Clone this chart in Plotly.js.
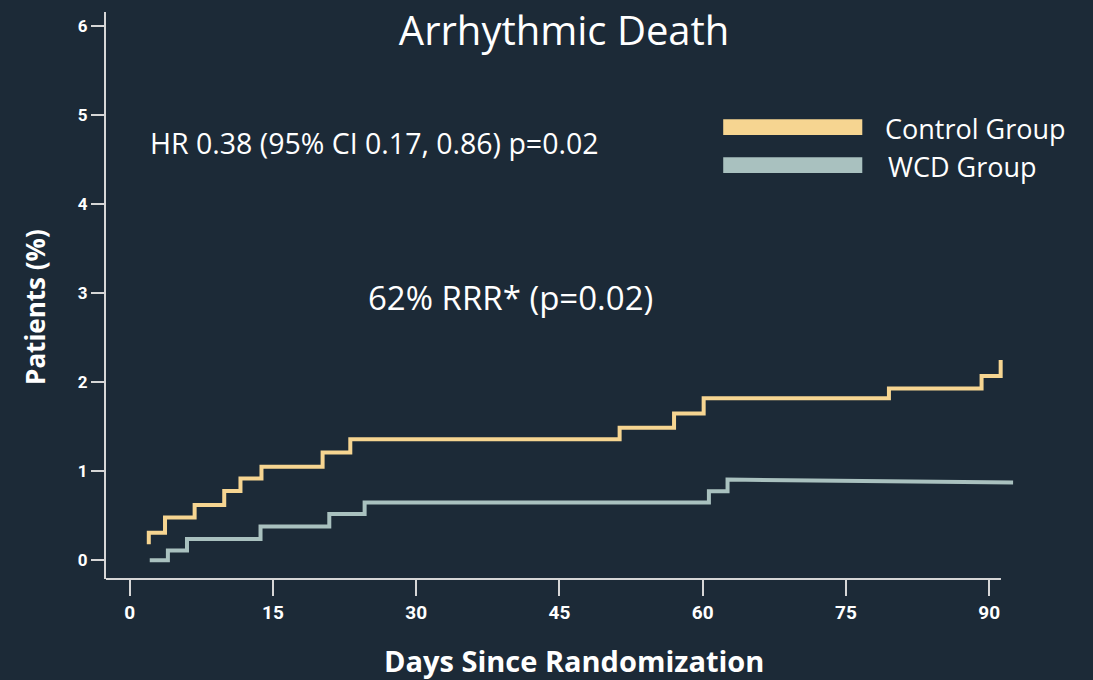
<!DOCTYPE html>
<html>
<head>
<meta charset="utf-8">
<script src="https://cdn.plot.ly/plotly-3.0.1.min.js"></script>
<style>
  html, body { margin: 0; padding: 0; background: #1c2a37; }
  #chart { width: 1093px; height: 680px; }
</style>
</head>
<body>
<div id="chart"></div>
<script>
// ---- Data ----
const chartTitle = "Arrhythmic Death";
const xAxisTitle = "Days Since Randomization";
const yAxisTitle = "Patients (%)";
const seriesNames = ["Control Group", "WCD Group"];

// Control group: cumulative % (step function, hv)
const controlDays = [2.0, 2.0, 3.7, 6.8, 9.9, 11.6, 13.8, 20.2, 23.1, 51.3, 57.0, 60.1, 79.5, 89.2, 91.2];
const controlPct  = [0.18, 0.31, 0.48, 0.62, 0.78, 0.92, 1.05, 1.21, 1.36, 1.49, 1.65, 1.82, 1.93, 2.07, 2.25];

// WCD group: cumulative % (KM-style listing with repeated times)
const wcdDays = [2.1, 4.0, 4.0, 6.0, 6.0, 13.7, 13.7, 20.9, 20.9, 24.6, 24.6, 60.65, 60.65, 62.6, 62.6, 92.5];
const wcdPct  = [0.0, 0.0, 0.11, 0.11, 0.24, 0.24, 0.38, 0.38, 0.52, 0.52, 0.65, 0.65, 0.775, 0.775, 0.907, 0.873];

const xTickVals = [0, 15, 30, 45, 60, 75, 90];
const yTickVals = [0, 1, 2, 3, 4, 5, 6];

const hrText = "HR 0.38 (95% CI 0.17, 0.86) p=0.02";
const rrrText = "62% RRR* (p=0.02)";

// ---- Styling ----
const BG = "#1c2a37";
const YELLOW = "#f6d591";
const GRAY = "#a9c1bf";
const AXIS = "#d6d6d6";
const TEXT = "#ffffff";

const xMin = -2.48, xAxisEnd = 91.23, xMax = 92.7;
const yMin = -0.21, yMax = 6.16;

const traces = [
  {
    x: controlDays, y: controlPct, name: seriesNames[0],
    type: "scatter", mode: "lines",
    line: { color: YELLOW, width: 4, shape: "hv" },
    hoverinfo: "skip"
  },
  {
    x: wcdDays, y: wcdPct, name: seriesNames[1],
    type: "scatter", mode: "lines",
    line: { color: GRAY, width: 4, shape: "linear" },
    hoverinfo: "skip"
  }
];

const layout = {
  width: 1093, height: 680,
  paper_bgcolor: BG, plot_bgcolor: BG,
  margin: { l: 106, r: 78, t: 12, b: 101 },
  showlegend: false,
  font: { family: "Open Sans, sans-serif", color: TEXT },
  title: {
    text: chartTitle,
    font: { family: "Open Sans, sans-serif", size: 40, color: TEXT },
    x: 0.504, xref: "paper", xanchor: "center",
    y: 0.955, yref: "container", yanchor: "middle"
  },
  xaxis: {
    range: [xMin, xMax],
    tickvals: xTickVals,
    ticktext: xTickVals.map(String),
    ticks: "outside", ticklen: 16, tickwidth: 2, tickcolor: AXIS,
    showline: false, showgrid: false, zeroline: false,
    tickfont: { family: "Roboto, sans-serif", size: 19, color: TEXT, weight: "bold" }
  },
  yaxis: {
    range: [yMin, yMax],
    tickvals: yTickVals,
    ticktext: yTickVals.map(String),
    ticks: "outside", ticklen: 13, tickwidth: 2, tickcolor: AXIS,
    showline: true, linecolor: AXIS, linewidth: 2,
    showgrid: false, zeroline: false,
    tickfont: { family: "Roboto, sans-serif", size: 17, color: TEXT, weight: "bold" }
  },
  shapes: [
    // x-axis line ending at day ~91
    { type: "line", xref: "x", yref: "paper", x0: xMin, x1: xAxisEnd, y0: 0, y1: 0,
      line: { color: AXIS, width: 2 } },
    // legend swatches
    { type: "rect", xref: "paper", yref: "paper", x0: 0.679, x1: 0.832, y0: 0.783, y1: 0.811,
      fillcolor: YELLOW, line: { width: 0 } },
    { type: "rect", xref: "paper", yref: "paper", x0: 0.679, x1: 0.832, y0: 0.716, y1: 0.744,
      fillcolor: GRAY, line: { width: 0 } }
  ],
  annotations: [
    { text: seriesNames[0], xref: "paper", yref: "paper", x: 0.855, y: 0.795,
      xanchor: "left", yanchor: "middle", showarrow: false,
      font: { family: "Open Sans, sans-serif", size: 27, color: TEXT } },
    { text: seriesNames[1], xref: "paper", yref: "paper", x: 0.858, y: 0.727,
      xanchor: "left", yanchor: "middle", showarrow: false,
      font: { family: "Open Sans, sans-serif", size: 27, color: TEXT } },
    { text: hrText, xref: "paper", yref: "paper", x: 0.046, y: 0.769,
      xanchor: "left", yanchor: "middle", showarrow: false,
      font: { family: "Open Sans, sans-serif", size: 28.5, color: TEXT } },
    { text: rrrText, xref: "paper", yref: "paper", x: 0.286, y: 0.497,
      xanchor: "left", yanchor: "middle", showarrow: false,
      font: { family: "Open Sans, sans-serif", size: 33, color: TEXT } },
    { text: xAxisTitle, xref: "paper", yref: "paper", x: 0.515, y: -0.143,
      xanchor: "center", yanchor: "middle", showarrow: false,
      font: { family: "Open Sans, sans-serif", size: 29, color: TEXT, weight: "bold" } },
    { text: yAxisTitle, xref: "paper", yref: "paper", x: -0.078, y: 0.48,
      xanchor: "center", yanchor: "middle", showarrow: false, textangle: -90,
      font: { family: "Open Sans, sans-serif", size: 26, color: TEXT, weight: "bold" } }
  ]
};

Plotly.newPlot("chart", traces, layout, { displayModeBar: false, staticPlot: true });
</script>
</body>
</html>
